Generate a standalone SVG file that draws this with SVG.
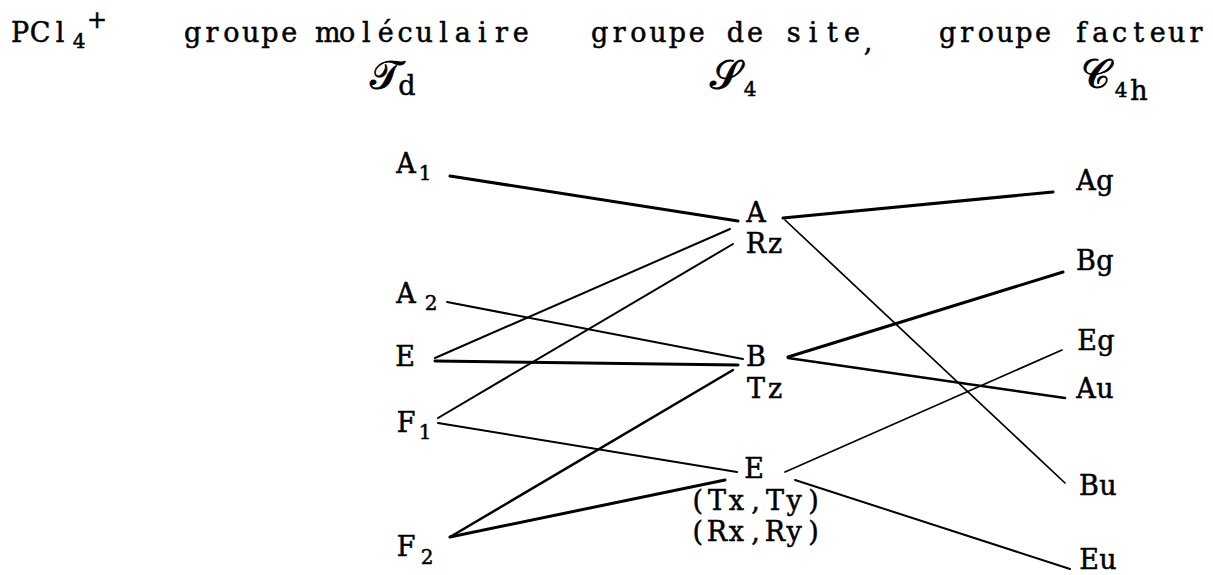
<svg xmlns="http://www.w3.org/2000/svg" width="1213" height="575" viewBox="0 0 1213 575">
<style>
text{font-family:"DejaVu Serif","Liberation Serif",serif;font-size:27px;fill:#000;stroke:#000;stroke-width:0.5;text-anchor:middle}
.sub{font-size:20px}
.sup{font-size:24px}
.scr{font-family:"DejaVu Serif","Noto Sans",serif;font-size:40px;stroke-width:0.9}
.c line{stroke:#000;stroke-linecap:round;fill:none}
.w3{stroke-width:3}
.w25{stroke-width:2.5}
.w2{stroke-width:2}
.w18{stroke-width:1.7}
</style>
<rect width="1213" height="575" fill="#fff"/>
<g id="title">
<text x="20 40 60" y="42">PCl</text><text class="sub" x="79" y="48">4</text><text class="sup" x="97" y="28">+</text>
</g>
<g id="hdr-molecular">
<text x="192.7 212 231.3 250.6 269.9 289.2 308.5 327.8 347.1 366.4 385.7 405 424.3 443.6 462.9 482.2 501.5 520.8" y="42">groupe moléculaire</text>
<text class="scr" x="385" y="89">𝒯</text><text x="407" y="95">d</text>
</g>
<g id="hdr-site">
<text x="599.7 619.1 638.5 657.9 677.3 696.7 716.1 735.5 754.9 774.3 793.7 813.1 832.5 851.9" y="42">groupe de site</text><text x="868" y="51">,</text>
<text class="scr" x="725" y="89">𝒮</text><text class="sub" x="750" y="96">4</text>
</g>
<g id="hdr-factor">
<text x="947.6 966.7 985.8 1004.9 1024 1043.1 1062.2 1081.3 1100.4 1119.5 1138.6 1157.7 1176.8 1195.9" y="42">groupe facteur</text>
<text class="scr" x="1095" y="88">𝒞</text><text class="sub" x="1121" y="97">4</text><text x="1139" y="100">h</text>
</g>
<g class="c" id="connectors">
<line class="w3" x1="450" y1="176" x2="738" y2="221"/>
<line class="w2" x1="435" y1="358" x2="730" y2="229"/>
<line class="w2" x1="438" y1="418" x2="733" y2="244"/>
<line class="w2" x1="447" y1="302" x2="743" y2="359"/>
<line class="w3" x1="435" y1="361" x2="738" y2="365"/>
<line class="w25" x1="450" y1="537" x2="733" y2="370"/>
<line class="w2" x1="438" y1="423" x2="737" y2="472"/>
<line class="w3" x1="450" y1="537" x2="725" y2="480"/>
<line class="w3" x1="783" y1="218" x2="1053" y2="192"/>
<line class="w18" x1="785" y1="220" x2="1065" y2="483"/>
<line class="w3" x1="788" y1="357" x2="1063" y2="272"/>
<line class="w25" x1="788" y1="358" x2="1065" y2="398"/>
<line class="w18" x1="785" y1="472" x2="1062" y2="350"/>
<line class="w2" x1="795" y1="480" x2="1070" y2="569"/>
</g>
<g id="n-A1"><text x="406" y="173">A</text><text class="sub" x="425" y="180">1</text></g>
<g id="n-A2"><text x="406" y="303">A</text><text class="sub" x="431" y="310">2</text></g>
<g id="n-E-mol"><text x="405" y="366">E</text></g>
<g id="n-F1"><text x="406" y="432">F</text><text class="sub" x="425" y="439">1</text></g>
<g id="n-F2"><text x="406" y="556">F</text><text class="sub" x="427" y="564">2</text></g>
<g id="n-A"><text x="756" y="222">A</text><text x="756 775" y="253">Rz</text></g>
<g id="n-B"><text x="756" y="366">B</text><text x="756 775" y="398">Tz</text></g>
<g id="n-E"><text x="754" y="478">E</text><text x="697.7 717 736.3 755.6 774.9 794.2 813.5" y="510">(Tx,Ty)</text><text x="697.7 717 736.3 755.6 774.9 794.2 813.5" y="541">(Rx,Ry)</text></g>
<g id="n-Ag"><text x="1086 1105" y="190">Ag</text></g>
<g id="n-Bg"><text x="1086 1105" y="270">Bg</text></g>
<g id="n-Eg"><text x="1087 1106" y="350">Eg</text></g>
<g id="n-Au"><text x="1086 1105" y="398">Au</text></g>
<g id="n-Bu"><text x="1089 1108" y="495">Bu</text></g>
<g id="n-Eu"><text x="1089 1108" y="569">Eu</text></g>
</svg>
